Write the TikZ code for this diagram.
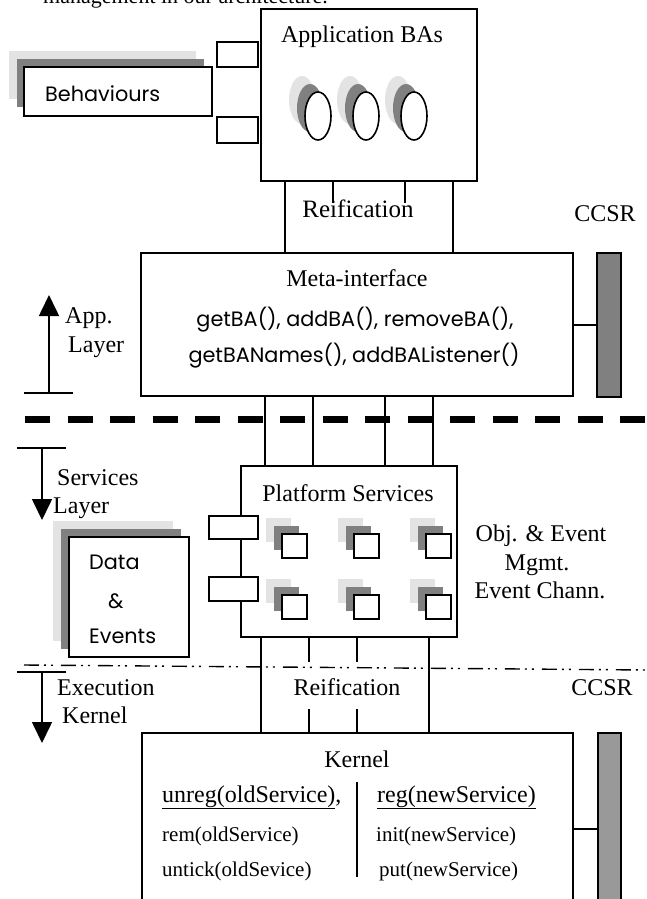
\documentclass[tikz,border=0pt]{standalone}
\usepackage{fontspec}
\setmainfont{Liberation Serif}
\newfontfamily\gothic{Poppins}
\usetikzlibrary{arrows.meta}
\definecolor{lightsh}{HTML}{E3E3E3}
\definecolor{darksh}{HTML}{808080}
\definecolor{barlow}{HTML}{999999}
\begin{document}
\begin{tikzpicture}[x=1pt,y=-1pt,
  box/.style={draw, line width=1.6pt, fill=white, inner sep=0, outer sep=0, rectangle, anchor=north west},
  lbl/.style={inner sep=0, font=\fontsize{24}{28}\selectfont},
  sm/.style={inner sep=0, font=\fontsize{21}{24}\selectfont},
  gt/.style={inner sep=0, font=\gothic\fontsize{20.8}{24}\selectfont},
  wire/.style={line width=1.6pt},
  layerarrow/.style={line width=1.6pt, -{Triangle[width=20pt,length=21pt]}}]
\useasboundingbox (0,0) rectangle (647,899);
\clip (0,0) rectangle (647,899);

% caption fragment
\node[inner sep=0, anchor=base west, font=\fontsize{22}{26}\selectfont] (cap) at (43,4) {management in our architecture.};

% Behaviours
\fill[lightsh] (9,51) rectangle (196,99);
\fill[darksh] (17,59) rectangle (204,107);
\node[box, minimum width=188, minimum height=49] (beh) at (24,67) {};
\node[gt, anchor=base west] (behT) at (45,101) {Behaviours};

% Application BAs
\node[box, minimum width=216, minimum height=172] (app) at (261,9) {};
\node[lbl, anchor=base] (appT) at (362,43) {Application BAs};
\node[box, minimum width=41, minimum height=25] (ap1) at (217,42) {};
\node[box, minimum width=41, minimum height=26] (ap2) at (217,117) {};
\foreach \x in {318,366,414} {
  \fill[lightsh] (\x-16,100) ellipse [x radius=13, y radius=24];
  \fill[darksh] (\x-8,108) ellipse [x radius=13, y radius=24];
  \draw[wire, fill=white] (\x,116) ellipse [x radius=13, y radius=24];
}

% Meta-interface
\node[box, minimum width=432, minimum height=143] (meta) at (141,253) {};
\node[lbl, anchor=base] (metaT) at (357,286) {Meta-interface};
\node[gt, anchor=base] (metaA) at (355,326) {getBA(), addBA(), removeBA(),};
\node[gt, anchor=base] (metaB) at (354,362) {getBANames(), addBAListener()};
\node[box, fill=darksh, minimum width=24, minimum height=144] (ccsr1) at (597,253) {};
\draw[wire] (meta.east |- 0,325) -- (ccsr1.west |- 0,325);

% upper reification
\draw[wire] (285,0 |- app.south) -- (285,0 |- meta.north);
\draw[wire] (453,0 |- app.south) -- (453,0 |- meta.north);
\draw[wire] (333,0 |- app.south) -- (333,203);
\draw[wire] (405,0 |- app.south) -- (405,203);
\node[inner sep=0, font=\fontsize{25}{29}\selectfont, anchor=base] (reif1) at (358,217) {Reification};
\node[lbl, anchor=base] (ccsrT1) at (605,221) {CCSR};

% App layer arrow
\coordinate (appbar) at (49,393);
\coordinate (apptip) at (49,295);
\draw[wire] (24,393) -- (73,393);
\draw[layerarrow] (appbar) -- (apptip);
\node[lbl, anchor=base west] (appL1) at (65,323) {App.};
\node[lbl, anchor=base west] (appL2) at (68,352) {Layer};

% thick dashed separator
\draw[line width=7pt, dash pattern=on 25pt off 17.5pt] (25,419) -- (647,419);

% Platform services
\node[box, minimum width=216, minimum height=171] (plat) at (241,466) {};
\foreach \x in {265,313,385,433} {
  \draw[wire] (\x,0 |- meta.south) -- (\x,0 |- plat.north);
}
\node[lbl, anchor=base] (platT) at (348,501) {Platform Services};
\node[box, minimum width=49, minimum height=23] (pl1) at (209,516) {};
\node[box, minimum width=49, minimum height=24] (pl2) at (209,577) {};
\foreach \x in {282,354,426} {
  \foreach \y in {534,595} {
    \fill[lightsh] (\x-16,\y-16) rectangle ++(25,24);
    \fill[darksh] (\x-8,\y-8) rectangle ++(25,24);
    \draw[wire, fill=white] (\x,\y) rectangle ++(25,24);
  }
}
\node[lbl, anchor=base] (obj1) at (541,541) {Obj. \& Event};
\node[lbl, anchor=base] (obj2) at (537,570) {Mgmt.};
\node[lbl, anchor=base] (obj3) at (540,598) {Event Chann.};

% Services layer arrow
\coordinate (svbar) at (42,448);
\coordinate (svtip) at (42,520);
\draw[wire] (17,448) -- (66,448);
\draw[layerarrow] (svbar) -- (svtip);
\node[lbl, anchor=base west] (svL1) at (57,485) {Services};
\node[lbl, anchor=base west] (svL2) at (53,513) {Layer};

% Data & Events
\fill[lightsh] (53,521) rectangle (173,641);
\fill[darksh] (61,529) rectangle (181,649);
\node[box, minimum width=120, minimum height=120] (data) at (69,537) {};
\node[gt, anchor=base west] (dataT1) at (89,569) {Data};
\node[gt, anchor=base west] (dataT2) at (108,608) {\&};
\node[gt, anchor=base west] (dataT3) at (89,643) {Events};

% dash-dot-dot separator
\draw[line width=1.4pt, dash pattern=on 15pt off 5pt on 2pt off 5pt on 2pt off 8pt] (24,665) -- (647,670);

% Execution kernel arrow
\coordinate (exbar) at (42,672);
\coordinate (extip) at (42,743);
\draw[wire] (17,672) -- (66,672);
\draw[layerarrow] (exbar) -- (extip);
\node[lbl, anchor=base west] (exL1) at (57,695) {Execution};
\node[lbl, anchor=base west] (exL2) at (62,723) {Kernel};

% Kernel
\node[box, minimum width=431, minimum height=200] (kern) at (142,733) {};
\draw[wire] (261,0 |- plat.south) -- (261,0 |- kern.north);
\draw[wire] (429,0 |- plat.south) -- (429,0 |- kern.north);
\draw[wire] (309,0 |- plat.south) -- (309,662);
\draw[wire] (357,0 |- plat.south) -- (357,662);
\draw[wire] (309,709) -- (309,0 |- kern.north);
\draw[wire] (357,709) -- (357,0 |- kern.north);
\node[lbl, anchor=base] (reif2) at (347,695) {Reification};
\node[lbl, anchor=base] (ccsrT2) at (602,695) {CCSR};
\node[box, fill=barlow, minimum width=23, minimum height=200] (ccsr2) at (598,733) {};
\draw[wire] (kern.east |- 0,829) -- (ccsr2.west |- 0,829);

\node[lbl, anchor=base] (kernT) at (357,767) {Kernel};
\draw[wire] (357,782) -- (357,877);
\node[lbl, anchor=base west] (unreg) at (162,802) {\underline{unreg(oldService)},};
\node[lbl, anchor=base west] (reg) at (377,802) {\underline{reg(newService)}};
\node[sm, anchor=base west] (rem) at (162,841) {rem(oldService)};
\node[sm, anchor=base west] (untick) at (162,876) {untick(oldSevice)};
\node[sm, anchor=base west] (init) at (376,841) {init(newService)};
\node[sm, anchor=base west] (put) at (379,876) {put(newService)};
\end{tikzpicture}
\end{document}
